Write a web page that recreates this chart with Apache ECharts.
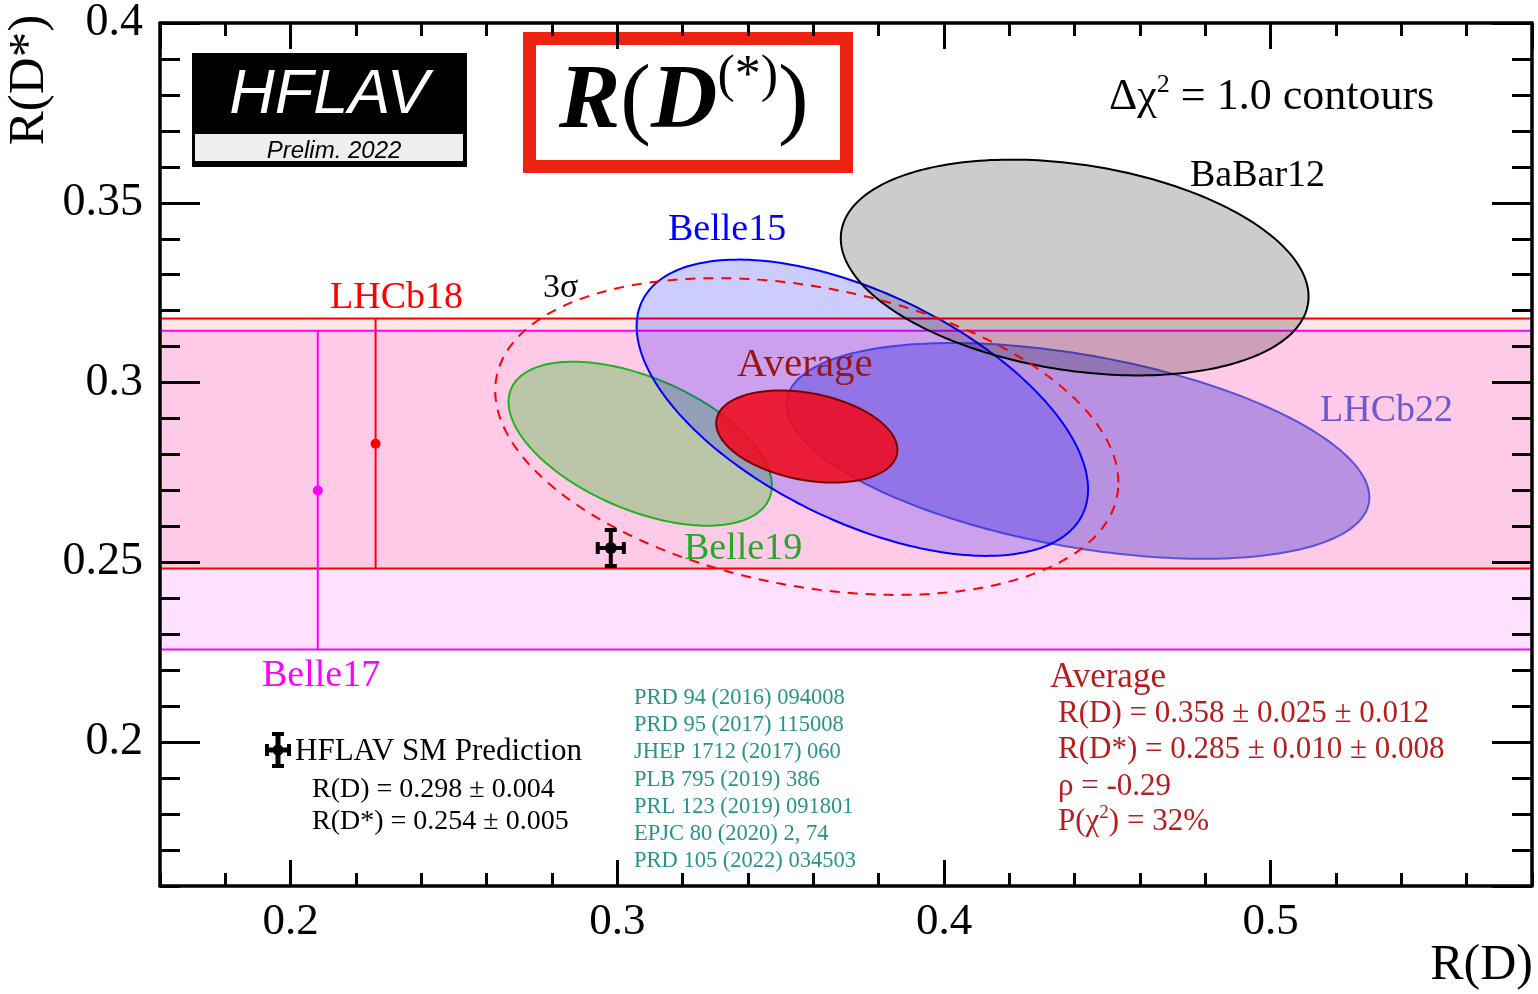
<!DOCTYPE html>
<html>
<head>
<meta charset="utf-8">
<title>R(D) vs R(D*)</title>
<script src="https://cdn.jsdelivr.net/npm/echarts/dist/echarts.min.js"></script>
<style>
  html, body { margin: 0; padding: 0; background: #ffffff; }
  #chart { width: 1538px; height: 994px; }
</style>
</head>
<body>
<div id="chart"></div>
<script>
// ---- axis ranges ----
const xMin = 0.16, xMax = 0.58;
const yMin = 0.16, yMax = 0.40;

// ---- 2D measurements of R(D), R(D*) : central values, total errors, correlation ----
const expNames  = ['Belle19', 'LHCb22', 'Belle15', 'BaBar12'];
const expRD     = [0.307, 0.441, 0.375, 0.440];
const expRDErr  = [0.0403, 0.0892, 0.0691, 0.0716];
const expRDs    = [0.283, 0.281, 0.293, 0.332];
const expRDsErr = [0.0228, 0.0300, 0.0412, 0.0300];
const expRho    = [-0.51, -0.43, -0.55, -0.27];

// ---- R(D*)-only measurements (drawn as horizontal bands) ----
const singleNames = ['LHCb18', 'Belle17'];
const singleX     = [0.226, 0.2083];   // where the error bar is placed along R(D)
const singleRDs   = [0.283, 0.270];
const singleUp    = [0.0348, 0.0444];
const singleDn    = [0.0347, 0.0442];

// ---- world average ----
const avgRD = 0.358, avgRDStat = 0.025, avgRDSyst = 0.012;
const avgRDs = 0.285, avgRDsStat = 0.010, avgRDsSyst = 0.008;
const avgRho = -0.29;
const avgProb = 32;
const chi2ThreeSigma = 11.83;   // Δχ² for 3σ with two parameters

// ---- SM prediction ----
const smRD = 0.298, smRDErr = 0.004;
const smRDs = 0.254, smRDsErr = 0.005;

// ---- publication list ----
const references = [
  'PRD 94 (2016) 094008',
  'PRD 95 (2017) 115008',
  'JHEP 1712 (2017) 060',
  'PLB 795 (2019) 386',
  'PRL 123 (2019) 091801',
  'EPJC 80 (2020) 2, 74',
  'PRD 105 (2022) 034503'
];

// ---- styles ----
const serif = 'Liberation Serif';
const sans = 'Liberation Sans';
const expStyle = {
  Belle19: { fill: 'rgba(50,190,40,0.33)',  stroke: '#1fb41f', text: '#22aa22' },
  LHCb22:  { fill: 'rgba(85,70,215,0.42)',  stroke: '#5a52dc', text: '#6a5acd' },
  Belle15: { fill: 'rgba(0,0,255,0.20)',    stroke: '#0000ff', text: '#0000ff' },
  BaBar12: { fill: 'rgba(0,0,0,0.20)',      stroke: '#000000', text: '#000000' }
};
const bandStyle = {
  LHCb18:  { fill: 'rgba(255,0,0,0.10)',   line: '#ff0000', text: '#ff0000' },
  Belle17: { fill: 'rgba(255,0,255,0.12)', line: '#ff00ff', text: '#ff00ff' }
};

const avgRDErr = Math.sqrt(avgRDStat * avgRDStat + avgRDSyst * avgRDSyst);
const avgRDsErr = Math.sqrt(avgRDsStat * avgRDsStat + avgRDsSyst * avgRDsSyst);

// contour of a 2D Gaussian: points where Δχ² = k²
function ellipsePoints(api, cx, sx, cy, sy, rho, k) {
  const pts = [];
  const n = 240;
  const s = Math.sqrt(1 - rho * rho);
  for (let i = 0; i < n; i++) {
    const t = 2 * Math.PI * i / n;
    pts.push(api.coord([
      cx + k * sx * Math.cos(t),
      cy + k * sy * (rho * Math.cos(t) + s * Math.sin(t))
    ]));
  }
  return pts;
}

const chart = echarts.init(document.getElementById('chart'), null, { renderer: 'canvas' });

const tickStyle = { color: '#000', width: 3 };
function xAxisDef(position, major) {
  return {
    type: 'value', min: xMin, max: xMax, position: position, z: 50,
    splitNumber: major ? 5 : undefined,
    interval: major ? undefined : 0.02,
    axisLine: { show: major, onZero: false, lineStyle: { color: '#000', width: 3.5 } },
    axisTick: { show: true, inside: true, length: major ? 26 : 13, lineStyle: tickStyle },
    axisLabel: {
      show: major && position === 'bottom', fontFamily: serif, fontSize: 45, color: '#000',
      margin: 14, showMinLabel: false, showMaxLabel: false
    },
    splitLine: { show: false }
  };
}
function yAxisDef(position, major) {
  return {
    type: 'value', min: yMin, max: yMax, position: position, z: 50,
    splitNumber: major ? 5 : undefined,
    interval: major ? undefined : 0.01,
    axisLine: { show: major, onZero: false, lineStyle: { color: '#000', width: 3.5 } },
    axisTick: { show: true, inside: true, length: major ? 40 : 20, lineStyle: tickStyle },
    axisLabel: {
      show: major && position === 'left', fontFamily: serif, fontSize: 46, color: '#000',
      margin: 17, showMinLabel: false, showMaxLabel: true
    },
    splitLine: { show: false }
  };
}

function txt(x, y, text, size, color, extra) {
  return Object.assign({
    type: 'text', x: x, y: y, z: 100, silent: true,
    style: Object.assign({
      text: text, fontFamily: serif, fontSize: size, fill: color,
      align: 'left', verticalAlign: 'middle'
    }, (extra && extra.style) || {})
  }, (extra && extra.el) || {});
}

const graphics = [];

// HFLAV logo
graphics.push({ type: 'rect', z: 30, silent: true, shape: { x: 192, y: 53, width: 275, height: 114 }, style: { fill: '#000' } });
graphics.push({ type: 'rect', z: 31, silent: true, shape: { x: 195, y: 134, width: 268, height: 27 }, style: { fill: '#eeeeee' } });
graphics.push(txt(329, 95, 'HFLAV', 63, '#ffffff', { style: { fontFamily: sans, fontStyle: 'italic', align: 'center' } }));
graphics.push(txt(334, 151, 'Prelim. 2022', 24, '#000000', { style: { fontFamily: sans, fontStyle: 'italic', align: 'center' } }));

// title box
graphics.push({ type: 'rect', z: 30, silent: true, shape: { x: 529.5, y: 38.5, width: 317, height: 128 },
  style: { fill: '#ffffff', stroke: '#ee2211', lineWidth: 13 } });
graphics.push({
  type: 'text', x: 559, y: 103, z: 100, silent: true,
  style: {
    text: '{b|R}{p|(}{b|D}{s|(*)}{p|)}',
    align: 'left', verticalAlign: 'middle',
    rich: {
      b: { fontFamily: serif, fontStyle: 'italic', fontWeight: 'bold', fontSize: 92, lineHeight: 104, fill: '#000' },
      p: { fontFamily: serif, fontSize: 92, lineHeight: 104, fill: '#000' },
      s: { fontFamily: serif, fontSize: 52, lineHeight: 52, verticalAlign: 'top', fill: '#000' }
    }
  }
});

graphics.push({
  type: 'text', x: 1109, y: 97, z: 100, silent: true,
  style: {
    text: '{a|Δχ}{s|2}{a| = 1.0 contours}',
    align: 'left', verticalAlign: 'middle',
    rich: {
      a: { fontFamily: serif, fontSize: 44, lineHeight: 50, fill: '#000' },
      s: { fontFamily: serif, fontSize: 26, lineHeight: 26, verticalAlign: 'top', fill: '#000' }
    }
  }
});

// measurement labels
graphics.push(txt(1190, 176, 'BaBar12', 38, expStyle.BaBar12.text));
graphics.push(txt(668, 230, 'Belle15', 38, expStyle.Belle15.text));
graphics.push(txt(543, 288, '3σ', 34, '#000'));
graphics.push(txt(330, 298, 'LHCb18', 38, bandStyle.LHCb18.text));
graphics.push(txt(737, 365, 'Average', 41, '#9a1414'));
graphics.push(txt(1320, 411, 'LHCb22', 38, expStyle.LHCb22.text));
graphics.push(txt(684, 549, 'Belle19', 38, expStyle.Belle19.text));
graphics.push(txt(262, 676, 'Belle17', 38, bandStyle.Belle17.text));

// SM prediction legend
const lx = 278, ly = 750;
graphics.push({
  type: 'group', x: lx, y: ly, z: 100, silent: true,
  children: [
    { type: 'rect', shape: { x: -12, y: -2.5, width: 24, height: 5 }, style: { fill: '#000' } },
    { type: 'rect', shape: { x: -2.5, y: -17, width: 5, height: 34 }, style: { fill: '#000' } },
    { type: 'rect', shape: { x: -6, y: -18, width: 12, height: 4 }, style: { fill: '#000' } },
    { type: 'rect', shape: { x: -6, y: 14, width: 12, height: 4 }, style: { fill: '#000' } },
    { type: 'rect', shape: { x: -13, y: -6, width: 4, height: 12 }, style: { fill: '#000' } },
    { type: 'rect', shape: { x: 9, y: -6, width: 4, height: 12 }, style: { fill: '#000' } },
    { type: 'circle', shape: { cx: 0, cy: 0, r: 5.5 }, style: { fill: '#000' } }
  ]
});
graphics.push(txt(295, 752, 'HFLAV SM Prediction', 31, '#000'));
graphics.push(txt(312, 790, 'R(D) = ' + smRD.toFixed(3) + ' ± ' + smRDErr.toFixed(3), 28, '#000'));
graphics.push(txt(312, 822, 'R(D*) = ' + smRDs.toFixed(3) + ' ± ' + smRDsErr.toFixed(3), 28, '#000'));

// publication list
references.forEach(function (r, i) {
  graphics.push(txt(634, 698 + i * 27.2, r, 22.5, '#279389'));
});

// average results
const avgColor = '#b81c1c';
graphics.push(txt(1050, 678, 'Average', 35, avgColor));
graphics.push(txt(1058, 714, 'R(D) = ' + avgRD.toFixed(3) + ' ± ' + avgRDStat.toFixed(3) + ' ± ' + avgRDSyst.toFixed(3), 31, avgColor));
graphics.push(txt(1058, 750, 'R(D*) = ' + avgRDs.toFixed(3) + ' ± ' + avgRDsStat.toFixed(3) + ' ± ' + avgRDsSyst.toFixed(3), 31, avgColor));
graphics.push(txt(1058, 787, 'ρ = ' + avgRho.toFixed(2), 31, avgColor));
graphics.push({
  type: 'text', x: 1058, y: 822, z: 100, silent: true,
  style: {
    text: '{a|P(χ}{s|2}{a|) = ' + avgProb + '%}',
    align: 'left', verticalAlign: 'middle',
    rich: {
      a: { fontFamily: serif, fontSize: 31, lineHeight: 36, fill: avgColor },
      s: { fontFamily: serif, fontSize: 19, lineHeight: 19, verticalAlign: 'top', fill: avgColor }
    }
  }
});

// axis titles
graphics.push(txt(1533, 966, 'R(D)', 50, '#000', { style: { align: 'right' } }));
graphics.push(txt(30, 80, 'R(D*)', 51, '#000', { style: { align: 'center' }, el: { rotation: Math.PI / 2 } }));

const option = {
  animation: false,
  backgroundColor: '#ffffff',
  grid: { left: 160, right: 6, top: 22, bottom: 108, containLabel: false },
  xAxis: [xAxisDef('bottom', true), xAxisDef('bottom', false), xAxisDef('top', true), xAxisDef('top', false)],
  yAxis: [yAxisDef('left', true), yAxisDef('left', false), yAxisDef('right', true), yAxisDef('right', false)],
  graphic: { elements: graphics },
  series: [
    // R(D*)-only bands
    {
      type: 'custom', name: 'bands', silent: true, xAxisIndex: 0, yAxisIndex: 0,
      encode: { x: 0, y: 1 },
      data: singleNames.map(function (n, i) { return [singleX[i], singleRDs[i], singleUp[i], singleDn[i]]; }),
      renderItem: function (params, api) {
        const c = api.value(1), up = api.value(2), dn = api.value(3);
        const p0 = api.coord([xMin, c + up]);
        const p1 = api.coord([xMax, c - dn]);
        return {
          type: 'rect',
          shape: { x: p0[0], y: p0[1], width: p1[0] - p0[0], height: p1[1] - p0[1] },
          style: { fill: bandStyle[singleNames[params.dataIndex]].fill }
        };
      }
    },
    // band edges and error bars
    {
      type: 'custom', name: 'bandEdges', silent: true, xAxisIndex: 0, yAxisIndex: 0,
      encode: { x: 0, y: 1 },
      data: singleNames.map(function (n, i) { return [singleX[i], singleRDs[i], singleUp[i], singleDn[i]]; }),
      renderItem: function (params, api) {
        const x = api.value(0), c = api.value(1), up = api.value(2), dn = api.value(3);
        const col = bandStyle[singleNames[params.dataIndex]].line;
        const a = api.coord([xMin, c + up]), b = api.coord([xMax, c + up]);
        const d = api.coord([xMin, c - dn]), e = api.coord([xMax, c - dn]);
        const t = api.coord([x, c + up]), m = api.coord([x, c]), bo = api.coord([x, c - dn]);
        const ls = { stroke: col, lineWidth: 2 };
        return {
          type: 'group',
          children: [
            { type: 'line', shape: { x1: a[0], y1: a[1], x2: b[0], y2: b[1] }, style: ls },
            { type: 'line', shape: { x1: d[0], y1: d[1], x2: e[0], y2: e[1] }, style: ls },
            { type: 'line', shape: { x1: t[0], y1: t[1], x2: bo[0], y2: bo[1] }, style: ls },
            { type: 'circle', shape: { cx: m[0], cy: m[1], r: 5 }, style: { fill: col } }
          ]
        };
      }
    },
    // individual 2D measurements
    {
      type: 'custom', name: 'measurements', silent: true, xAxisIndex: 0, yAxisIndex: 0,
      encode: { x: 0, y: 2 },
      data: expNames.map(function (n, i) { return [expRD[i], expRDErr[i], expRDs[i], expRDsErr[i], expRho[i]]; }),
      renderItem: function (params, api) {
        const st = expStyle[expNames[params.dataIndex]];
        return {
          type: 'polygon',
          shape: { points: ellipsePoints(api, api.value(0), api.value(1), api.value(2), api.value(3), api.value(4), 1) },
          style: { fill: st.fill, stroke: st.stroke, lineWidth: 2 }
        };
      }
    },
    // average, 1σ contour
    {
      type: 'custom', name: 'average', silent: true, xAxisIndex: 0, yAxisIndex: 0,
      encode: { x: 0, y: 2 },
      data: [[avgRD, avgRDErr, avgRDs, avgRDsErr, avgRho]],
      renderItem: function (params, api) {
        return {
          type: 'polygon',
          shape: { points: ellipsePoints(api, api.value(0), api.value(1), api.value(2), api.value(3), api.value(4), 1) },
          style: { fill: 'rgba(240,10,30,0.88)', stroke: '#7a0000', lineWidth: 2 }
        };
      }
    },
    // average, 3σ contour
    {
      type: 'custom', name: 'average3sigma', silent: true, xAxisIndex: 0, yAxisIndex: 0,
      encode: { x: 0, y: 2 },
      data: [[avgRD, avgRDErr, avgRDs, avgRDsErr, avgRho]],
      renderItem: function (params, api) {
        return {
          type: 'polygon',
          shape: { points: ellipsePoints(api, api.value(0), api.value(1), api.value(2), api.value(3), api.value(4), Math.sqrt(chi2ThreeSigma)) },
          style: { fill: null, stroke: '#ff0000', lineWidth: 2, lineDash: [10, 8] }
        };
      }
    },
    // SM prediction
    {
      type: 'custom', name: 'sm', silent: true, xAxisIndex: 0, yAxisIndex: 0,
      encode: { x: 0, y: 2 },
      data: [[smRD, smRDErr, smRDs, smRDsErr]],
      renderItem: function (params, api) {
        const cx = api.value(0), ex = api.value(1), cy = api.value(2), ey = api.value(3);
        const c = api.coord([cx, cy]);
        const l = api.coord([cx - ex, cy]), r = api.coord([cx + ex, cy]);
        const t = api.coord([cx, cy + ey]), b = api.coord([cx, cy - ey]);
        const ls = { stroke: '#000', lineWidth: 4 };
        return {
          type: 'group',
          children: [
            { type: 'line', shape: { x1: l[0], y1: l[1], x2: r[0], y2: r[1] }, style: ls },
            { type: 'line', shape: { x1: t[0], y1: t[1], x2: b[0], y2: b[1] }, style: ls },
            { type: 'line', shape: { x1: l[0], y1: l[1] - 6, x2: l[0], y2: l[1] + 6 }, style: ls },
            { type: 'line', shape: { x1: r[0], y1: r[1] - 6, x2: r[0], y2: r[1] + 6 }, style: ls },
            { type: 'line', shape: { x1: t[0] - 6, y1: t[1], x2: t[0] + 6, y2: t[1] }, style: ls },
            { type: 'line', shape: { x1: b[0] - 6, y1: b[1], x2: b[0] + 6, y2: b[1] }, style: ls },
            { type: 'circle', shape: { cx: c[0], cy: c[1], r: 6 }, style: { fill: '#000' } }
          ]
        };
      }
    }
  ]
};

chart.setOption(option);
</script>
</body>
</html>
